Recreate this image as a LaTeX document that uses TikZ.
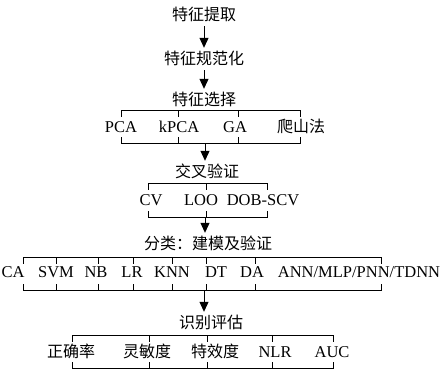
\documentclass[tikz,border=0pt]{standalone}
\usepackage{fontspec}
\setmainfont{Liberation Serif}
\newfontfamily\cjk{Noto Sans CJK SC}
\usetikzlibrary{arrows.meta}

\begin{document}
\begin{tikzpicture}[x=1pt, y=-1pt,
   lbl/.style={font=\fontsize{16.5}{20}\selectfont, inner sep=3.5pt,
      text height=13pt, text depth=2pt},
   zh/.style={lbl, font=\cjk\fontsize{16}{20}\selectfont},
   flow/.style={-{Triangle[width=9pt, length=10pt]}, line width=1pt},
   brk/.style={line width=1pt, line cap=rect}]
   \useasboundingbox (0,0) rectangle (443,370);
   % Titles
   \node[zh] (ext)  at (204,15)  {特征提取};
   \node[zh] (norm) at (204,59)  {特征规范化};
   \node[zh] (sel)  at (204,100) {特征选择};
   \node[zh] (cv)   at (207,172) {交叉验证};
   \node[zh] (cls)  at (208,244) {分类：建模及验证};
   \node[zh] (eva)  at (211,323) {识别评估};
   % Feature selection methods
   \draw[brk] (121,110) -- (300,110) (121,143) -- (300,143);
   \foreach \x in {121,178,238,300}
      \draw[brk] (\x,110) -- ++(0,6) (\x,143) -- ++(0,-6);
   \node[lbl] (pca)  at (121,127) {PCA};
   \node[lbl] (kpca) at (179,127) {kPCA};
   \node[lbl] (ga)   at (235,127) {GA};
   \node[zh]  (hill) at (301,127) {爬山法};
   \coordinate (selB) at (205,143);
   % Cross validation
   \draw[brk] (148,183) -- (267,183) (148,217) -- (267,217);
   \foreach \x in {148,206,267}
      \draw[brk] (\x,183) -- ++(0,6) (\x,217) -- ++(0,-6);
   \node[lbl] (cvk) at (151,200) {CV};
   \node[lbl] (loo) at (201,200) {LOO};
   \node[lbl] (dob) at (263,200) {DOB-SCV};
   \coordinate (cvB) at (205,217);
   % Classifiers
   \draw[brk] (23,257) -- (381,257) (23,290) -- (381,290);
   \foreach \x in {23,56,98,133,172,206,255,381}
      \draw[brk] (\x,257) -- ++(0,6) (\x,290) -- ++(0,-6);
   \node[lbl] (ca)  at (13,272)  {CA};
   \node[lbl] (svm) at (56,272)  {SVM};
   \node[lbl] (nb)  at (96,272)  {NB};
   \node[lbl] (lr)  at (132,272) {LR};
   \node[lbl] (knn) at (172,272) {KNN};
   \node[lbl] (dt)  at (216,272) {DT};
   \node[lbl] (da)  at (252,272) {DA};
   \node[lbl] (ann) at (359,272) {ANN/MLP/PNN/TDNN};
   \coordinate (clsB) at (204,290);
   % Evaluation measures
   \draw[brk] (72,335) -- (333,335) (72,368) -- (333,368);
   \foreach \x in {72,149,207,272,333}
      \draw[brk] (\x,335) -- ++(0,6) (\x,368) -- ++(0,-6);
   \node[zh]  (acc)  at (71,352)  {正确率};
   \node[zh]  (sens) at (147,352) {灵敏度};
   \node[zh]  (spec) at (215,352) {特效度};
   \node[lbl] (nlr)  at (275,352) {NLR};
   \node[lbl] (auc)  at (332,352) {AUC};
   % Arrows
   \draw[flow] (ext) -- (norm);
   \draw[flow] (norm) -- (sel);
   \draw[flow] (selB) -- (selB |- cv.north);
   \draw[flow] (cvB) -- (cvB |- cls.north);
   \draw[flow] (clsB) -- (clsB |- eva.north);
\end{tikzpicture}
\end{document}
